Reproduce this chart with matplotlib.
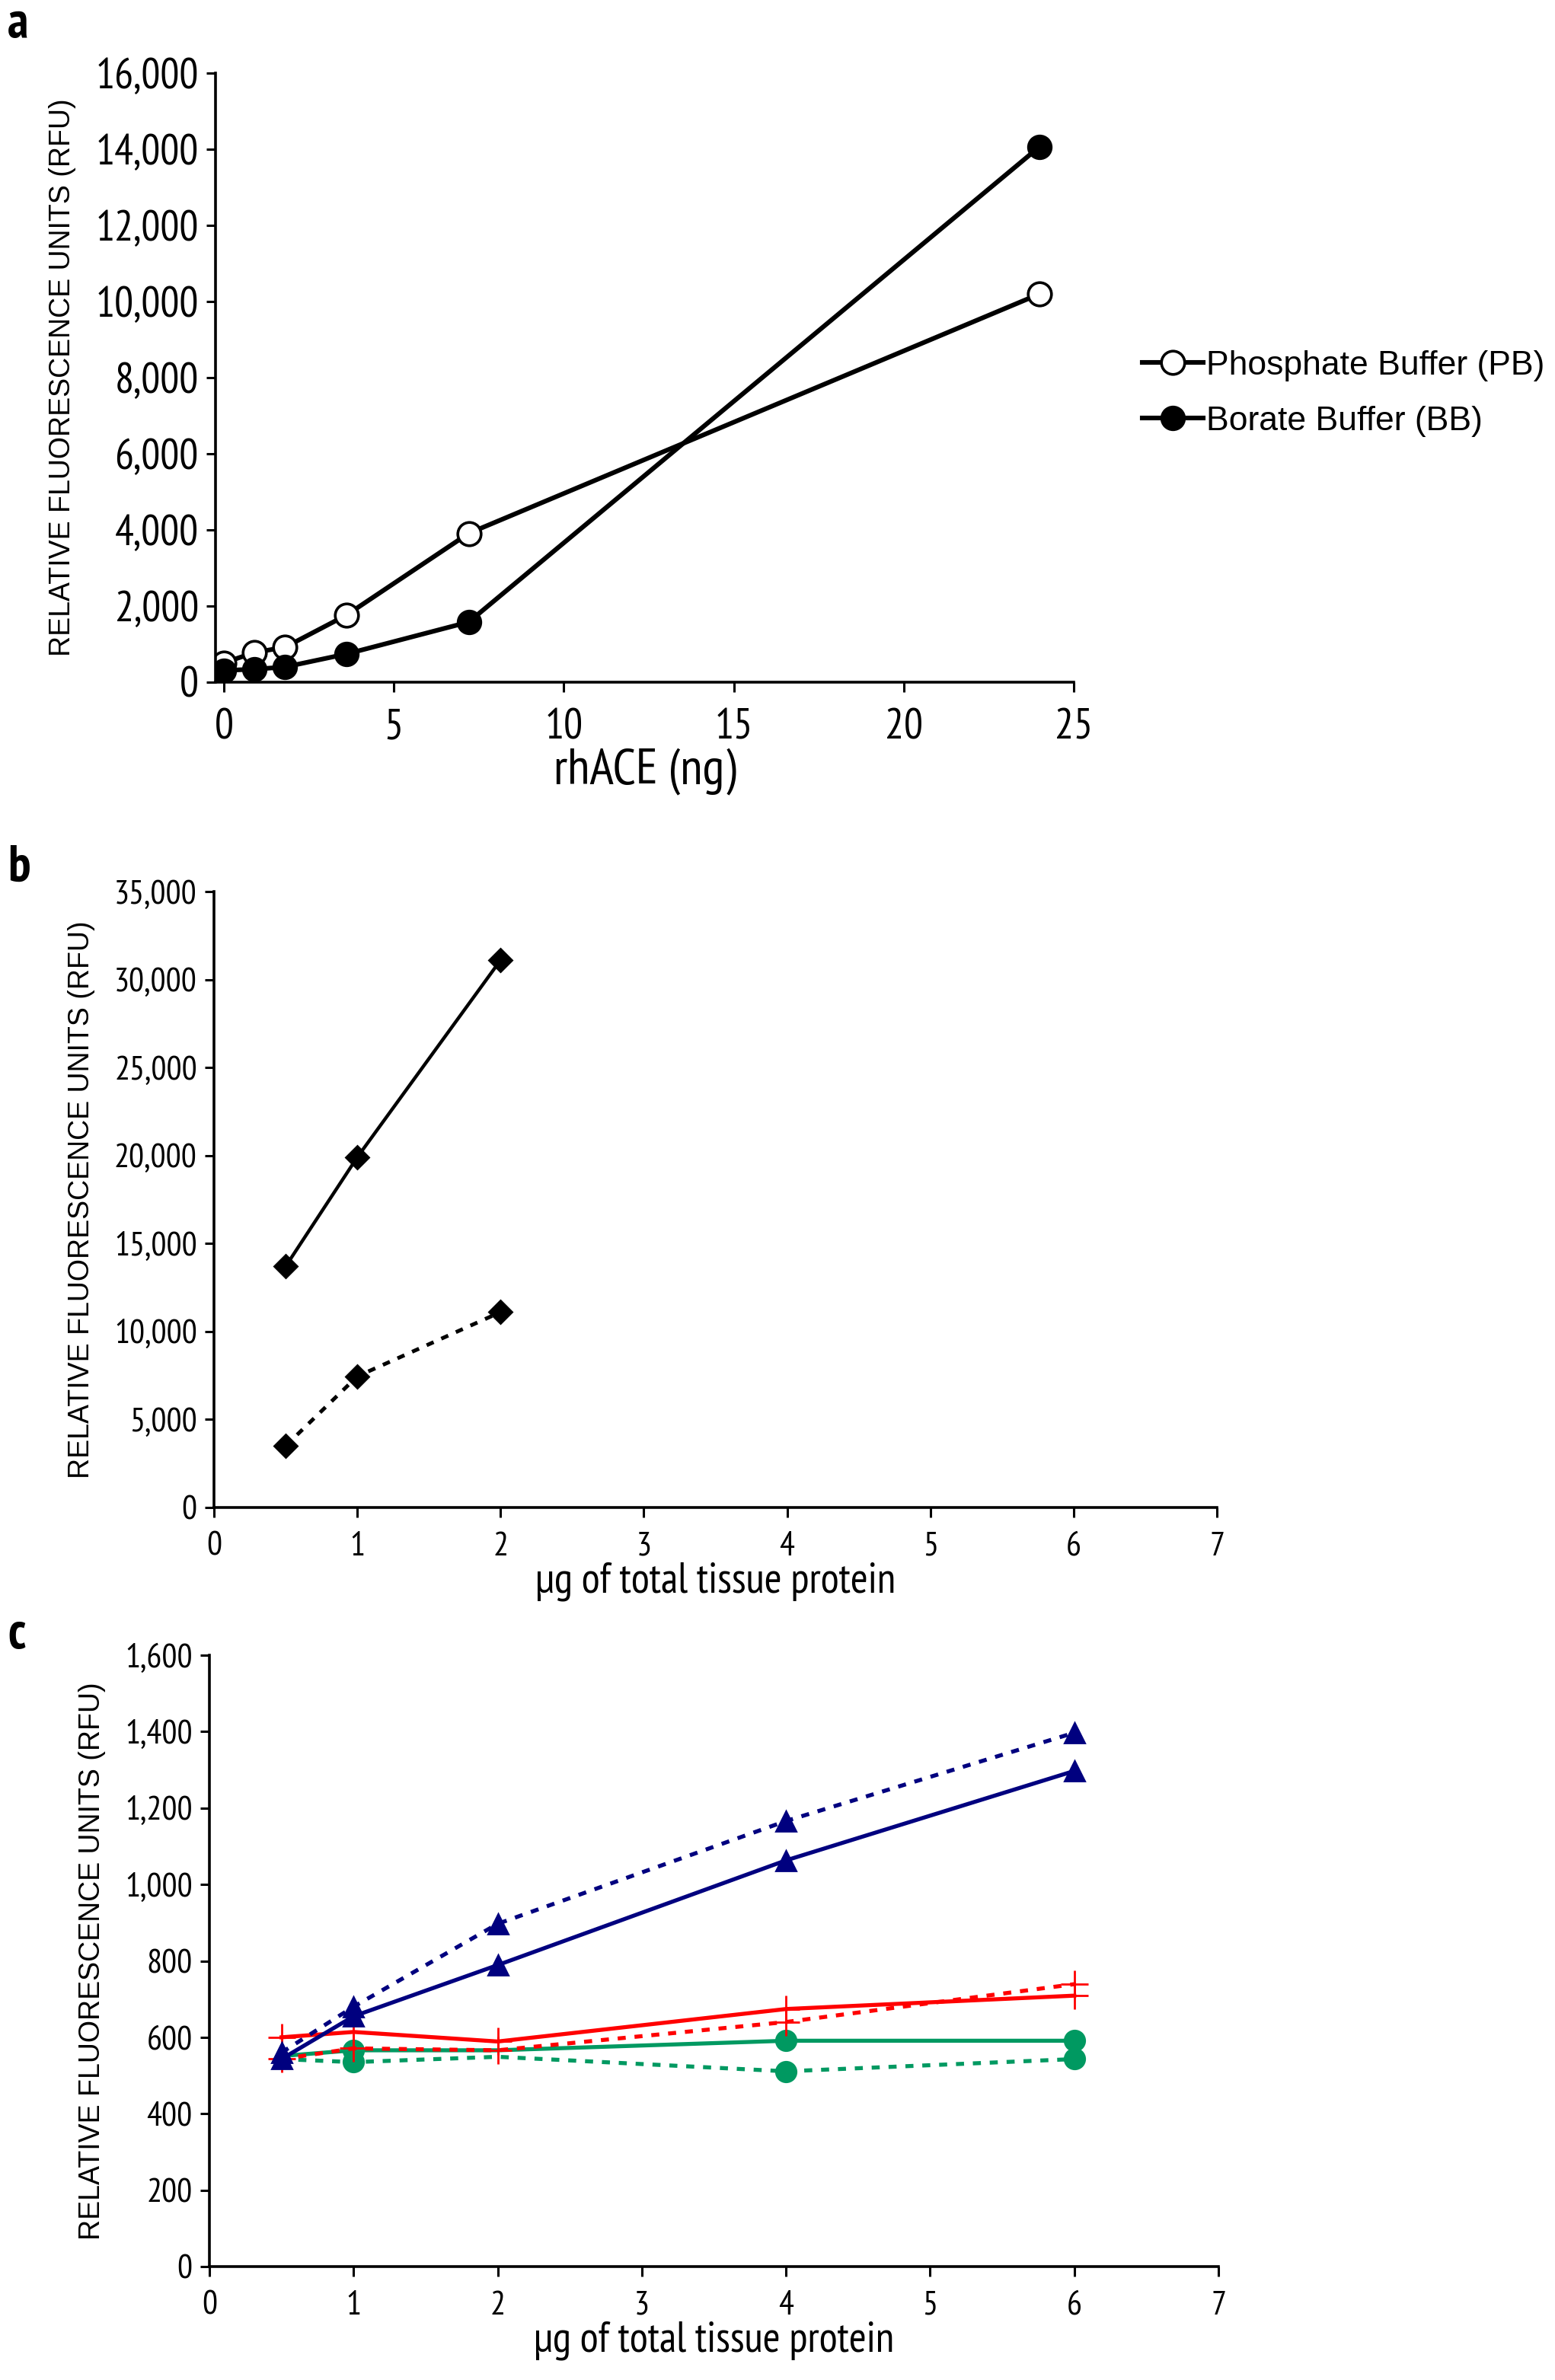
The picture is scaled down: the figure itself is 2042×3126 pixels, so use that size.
import matplotlib
matplotlib.use('Agg')
import matplotlib.pyplot as plt
from matplotlib.ticker import FuncFormatter

NARROW = ['Arial Narrow', 'Liberation Sans Narrow', 'PT Sans Narrow', 'Roboto Condensed',
          'Archivo Narrow', 'Liberation Sans', 'DejaVu Sans']
ARIAL = ['Liberation Sans', 'DejaVu Sans']

# panel a data
rhace_ng = [0, 0.9, 1.8, 3.6, 7.2, 24]
pb_rfu = [510, 780, 920, 1760, 3910, 10200]
bb_rfu = [310, 340, 400, 740, 1580, 14070]

# panel b data
prot_b = [0.5, 1, 2]
b_solid = [13700, 19900, 31100]
b_dashed = [3500, 7450, 11100]

# panel c data
prot_c = [0.5, 1, 2, 4, 6]
blue_solid = [543, 655, 789, 1063, 1297]
blue_dashed = [560, 680, 897, 1166, 1397]
red_solid = [600, 614, 589, 674, 709]
red_dashed = [543, 571, 566, 640, 739]
green_solid = [551, 566, 566, 591, 591]
green_dashed = [543, 535, 549, 511, 543]

W, H = 2042, 3126
fig = plt.figure(figsize=(W / 200, H / 200), dpi=200)


def box(l, r, b, t):
    return [l / W, 1 - b / H, (r - l) / W, (b - t) / H]


def comma(v, pos):
    return '{:,.0f}'.format(v)


def style(ax, tick_size, xpad):
    for s in ['top', 'right']:
        ax.spines[s].set_visible(False)
    for s in ['left', 'bottom']:
        ax.spines[s].set_linewidth(1.3)
    ax.tick_params(direction='out', length=4.5, width=1.1, labelsize=tick_size)
    ax.tick_params(axis='x', pad=xpad)
    ax.yaxis.set_major_formatter(FuncFormatter(comma))
    for lab in ax.get_xticklabels() + ax.get_yticklabels():
        lab.set_family(NARROW)


# ---- a
ax1 = fig.add_axes(box(283, 1410, 896, 96))
ax1.plot(rhace_ng, pb_rfu, '-o', color='black', lw=2.2, ms=11, mfc='white',
         mec='black', mew=1.3, label='Phosphate Buffer (PB)')
ax1.plot(rhace_ng, bb_rfu, '-o', color='black', lw=2.2, ms=11, mfc='black',
         label='Borate Buffer (BB)')
ax1.set_xlim(-0.25, 25)
ax1.set_ylim(0, 16000)
ax1.set_xticks([0, 5, 10, 15, 20, 25])
ax1.set_yticks(range(0, 16001, 2000))
style(ax1, 20, 8)
ax1.set_xlabel('rhACE (ng)', family=NARROW, fontsize=24, labelpad=0)
ax1.set_ylabel('RELATIVE FLUORESCENCE UNITS (RFU)', family=ARIAL, fontsize=13.5, labelpad=9)
leg = ax1.legend(loc='upper left', bbox_to_anchor=(1500 / W, 1 - 460 / H),
                 bbox_transform=fig.transFigure, frameon=False, borderpad=0,
                 borderaxespad=0, prop={'family': ARIAL, 'size': 16},
                 handlelength=1.8, handletextpad=0.1, labelspacing=0.72)
fig.text(10 / W, 1 - 50 / H, 'a', family=NARROW, fontsize=24, fontweight='bold')

# ---- b
ax2 = fig.add_axes(box(281, 1598, 1980, 1171))
ax2.plot(prot_b, b_solid, '-D', color='black', lw=1.6, ms=7.5)
ax2.plot(prot_b, b_dashed, '--D', color='black', lw=1.8, ms=7.5, dashes=(2, 2.2))
ax2.set_xlim(0, 7)
ax2.set_ylim(0, 35000)
ax2.set_yticks(range(0, 35001, 5000))
style(ax2, 16, 7)
ax2.set_xlabel('\u03bcg of total tissue protein', family=NARROW, fontsize=20, labelpad=0)
ax2.set_ylabel('RELATIVE FLUORESCENCE UNITS (RFU)', family=ARIAL, fontsize=13.5, labelpad=9)
fig.text(10 / W, 1 - 1158 / H, 'b', family=NARROW, fontsize=24, fontweight='bold')

# ---- c
ax3 = fig.add_axes(box(275, 1600, 2977, 2174))
navy = '#00007F'
red = '#FF0000'
green = '#009961'
# green markers at 0.5 and 2 are not visible in the original
ax3.plot(prot_c, green_dashed, '--o', color=green, lw=1.9, ms=9.5, dashes=(2, 2.2),
         markevery=[1, 3, 4])
ax3.plot(prot_c, green_solid, '-o', color=green, lw=1.9, ms=9.5, markevery=[1, 3, 4])
ax3.plot(prot_c, red_dashed, '--+', color=red, lw=1.9, ms=13, mew=1.0, dashes=(2, 2.2))
ax3.plot(prot_c, red_solid, '-+', color=red, lw=1.9, ms=13, mew=1.0)
ax3.plot(prot_c, blue_dashed, '--^', color=navy, lw=1.9, ms=9.5, dashes=(2, 2.2))
ax3.plot(prot_c, blue_solid, '-^', color=navy, lw=1.9, ms=9.5)
ax3.set_xlim(0, 7)
ax3.set_ylim(0, 1600)
ax3.set_yticks(range(0, 1601, 200))
style(ax3, 16, 7)
ax3.set_xlabel('\u03bcg of total tissue protein', family=NARROW, fontsize=20, labelpad=0)
ax3.set_ylabel('RELATIVE FLUORESCENCE UNITS (RFU)', family=ARIAL, fontsize=13.5, labelpad=9)
fig.text(10 / W, 1 - 2165 / H, 'c', family=NARROW, fontsize=24, fontweight='bold')

fig.savefig('out.png', dpi=200)
